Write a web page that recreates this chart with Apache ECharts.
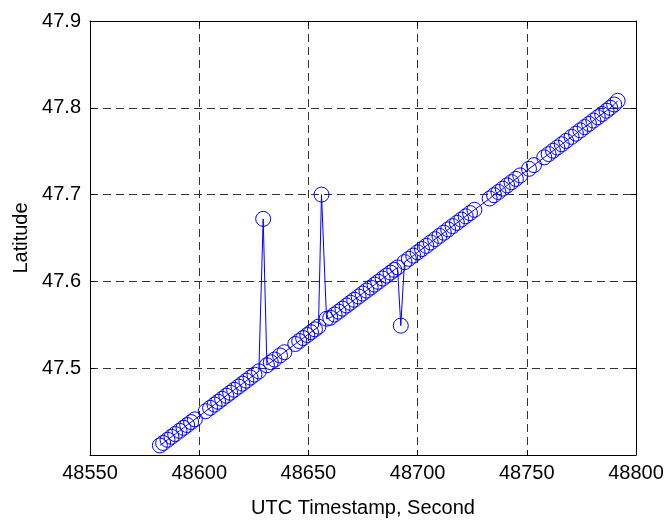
<!DOCTYPE html>
<html>
<head>
<meta charset="utf-8">
<script src="https://cdn.jsdelivr.net/npm/echarts@6/dist/echarts.min.js"></script>
<style>
  html, body { margin: 0; padding: 0; background: #fff; }
  #chart { width: 668px; height: 523px; }
</style>
</head>
<body>
<div id="chart"></div>
<script>
// GPS fix times (UTC seconds of day) and the latitudes recorded at each
const timestamps = [
  48582, 48583.5, 48585.5, 48587.3, 48589, 48591, 48592.8, 48594.5, 48596.3, 48598,
  48603, 48605, 48607, 48608.7, 48610.5, 48612.4, 48614.2, 48616, 48618, 48619.8,
  48621.6, 48623.5, 48625.3, 48627.3, 48629.3, 48631, 48632.8, 48634.5, 48637, 48639,
  48644, 48645.8, 48647.6, 48649.5, 48651.2, 48653, 48654.6, 48656, 48658.3, 48660,
  48662, 48663.8, 48665.6, 48667.5, 48669.2, 48671, 48673, 48674.8, 48676.6, 48678.5,
  48680.3, 48682, 48684, 48685.8, 48687.6, 48689.3, 48690.8, 48692.3, 48694, 48696,
  48698, 48700, 48702, 48704, 48706, 48708, 48710, 48712, 48714, 48716,
  48718, 48720, 48722, 48724, 48726, 48733, 48735, 48737, 48739, 48741,
  48743, 48745, 48747, 48751, 48753.3, 48758, 48760, 48762, 48764, 48766,
  48768, 48770.5, 48772.5, 48774.5, 48776.5, 48778.5, 48780.5, 48782.5, 48784.5, 48786.5,
  48788.2, 48790, 48791.6
];
const latitudes = [
  47.411, 47.4138, 47.4175, 47.4209, 47.4241, 47.4279, 47.4313, 47.4345, 47.4379, 47.4411,
  47.4505, 47.4543, 47.4581, 47.4613, 47.4647, 47.4683, 47.4717, 47.4751, 47.4788, 47.4822,
  47.4856, 47.4892, 47.4926, 47.4964, 47.672, 47.5034, 47.5068, 47.5100, 47.5147, 47.5184,
  47.5279, 47.5313, 47.5347, 47.5382, 47.5415, 47.5448, 47.5479, 47.700, 47.557, 47.5581,
  47.5618, 47.5652, 47.5686, 47.5722, 47.5754, 47.5788, 47.5826, 47.5860, 47.5894, 47.5929,
  47.5963, 47.5995, 47.6033, 47.6067, 47.6101, 47.6133, 47.6161, 47.549, 47.6222, 47.6260,
  47.6297, 47.6335, 47.6373, 47.6410, 47.6448, 47.6486, 47.6524, 47.6561, 47.6599, 47.6637,
  47.6674, 47.6712, 47.6750, 47.6787, 47.6825, 47.6955, 47.6993, 47.7030, 47.7068, 47.7106,
  47.7143, 47.7181, 47.7221, 47.7297, 47.7340, 47.7429, 47.7467, 47.7505, 47.7542, 47.7580,
  47.7618, 47.7665, 47.7702, 47.7740, 47.7778, 47.7815, 47.7853, 47.7891, 47.7929, 47.7966,
  47.8000, 47.8038, 47.8080
];
const xRange = { min: 48550, max: 48800, step: 50 };
const yRange = { min: 47.4, max: 47.9, step: 0.1 };
const xTitle = 'UTC Timestamp, Second';
const yTitle = 'Latitude';

const track = timestamps.map((t, i) => [t, latitudes[i]]);

const FONT = 'Liberation Sans, Arial, sans-serif';
const gridLine = { show: true, lineStyle: { color: '#333', width: 1, type: [8, 5] } };
const inTick = { show: true, inside: true, length: 5, lineStyle: { color: '#000' } };
const edgeLine = { show: true, onZero: false, lineStyle: { color: '#000', width: 1 } };

const chart = echarts.init(document.getElementById('chart'), null, { renderer: 'canvas' });
chart.setOption({
  backgroundColor: '#fff',
  animation: false,
  grid: { left: 90, right: 32, top: 21, bottom: 67 },
  xAxis: [
    {
      type: 'value', position: 'bottom',
      min: xRange.min, max: xRange.max, interval: xRange.step,
      name: xTitle, nameLocation: 'middle', nameGap: 43,
      nameTextStyle: { fontFamily: FONT, fontSize: 20, color: '#000' },
      axisLine: edgeLine, axisTick: inTick, splitLine: gridLine,
      axisLabel: { fontFamily: FONT, fontSize: 20, color: '#000', margin: 8, formatter: v => String(v) }
    },
    {
      type: 'value', position: 'top',
      min: xRange.min, max: xRange.max, interval: xRange.step,
      axisLine: edgeLine, axisTick: inTick, splitLine: { show: false },
      axisLabel: { show: false }
    }
  ],
  yAxis: [
    {
      type: 'value', position: 'left',
      min: yRange.min, max: yRange.max, interval: yRange.step,
      name: yTitle, nameLocation: 'middle', nameGap: 52, nameRotate: 90,
      nameTextStyle: { fontFamily: FONT, fontSize: 20, color: '#000' },
      axisLine: edgeLine, axisTick: inTick, splitLine: gridLine,
      axisLabel: {
        fontFamily: FONT, fontSize: 20, color: '#000', margin: 9,
        showMinLabel: false,
        formatter: v => v.toFixed(1)
      }
    },
    {
      type: 'value', position: 'right',
      min: yRange.min, max: yRange.max, interval: yRange.step,
      axisLine: edgeLine, axisTick: inTick, splitLine: { show: false },
      axisLabel: { show: false }
    }
  ],
  series: [
    {
      type: 'line',
      data: track,
      xAxisIndex: 0, yAxisIndex: 0,
      symbol: 'circle',
      symbolSize: 15,
      showAllSymbol: true,
      lineStyle: { color: '#0000ff', width: 1 },
      itemStyle: { color: 'rgba(0,0,0,0)', borderColor: '#0000ff', borderWidth: 1 },
      emphasis: { disabled: true }
    }
  ]
});
</script>
</body>
</html>
